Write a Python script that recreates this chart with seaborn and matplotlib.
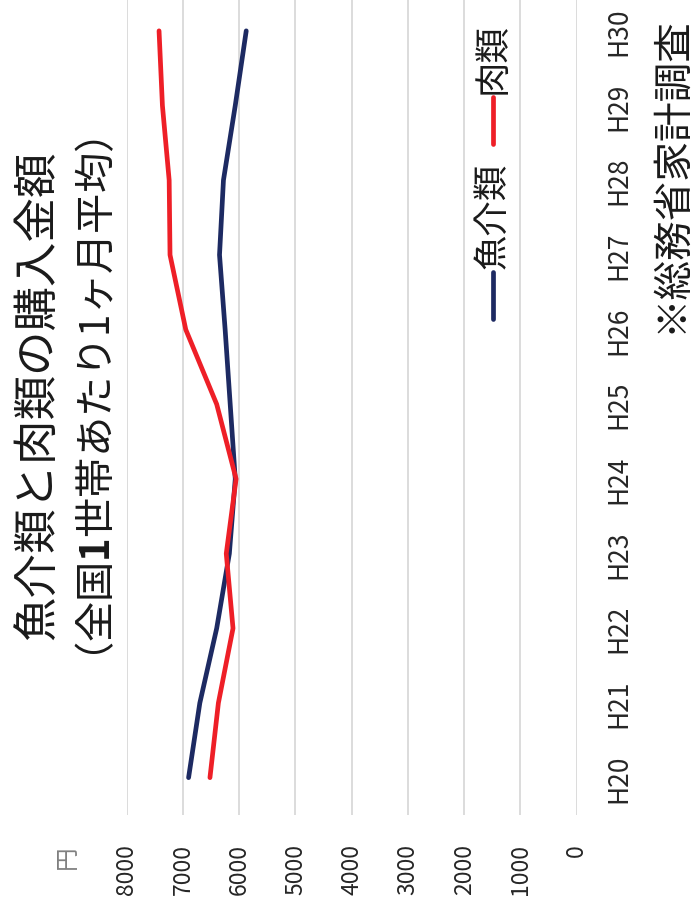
import matplotlib
matplotlib.use("Agg")
import matplotlib.pyplot as plt
import pandas as pd
import seaborn as sns
from matplotlib.lines import Line2D

# 家計調査: 1世帯あたり1ヶ月平均の購入金額（円）
years = ["H20", "H21", "H22", "H23", "H24", "H25", "H26", "H27", "H28", "H29", "H30"]
fish = [6900, 6700, 6400, 6175, 6070, 6160, 6250, 6350, 6280, 6070, 5875]
meat = [6520, 6370, 6110, 6230, 6055, 6400, 6950, 7230, 7245, 7365, 7425]
series_names = ["魚介類", "肉類"]
value_ticks = [0, 1000, 2000, 3000, 4000, 5000, 6000, 7000, 8000]

NAVY = "#1d2a62"
RED = "#ee1f27"
GRID = "#d9d9d9"
TEXT = "#262626"

sns.set_theme(style="white")
plt.rcParams["font.family"] = ["Noto Sans CJK JP", "DejaVu Sans"]
plt.rcParams["mathtext.fontset"] = "custom"
plt.rcParams["mathtext.rm"] = "Noto Sans CJK JP"
plt.rcParams["mathtext.bf"] = "Noto Sans CJK JP:bold"
plt.rcParams["mathtext.default"] = "rm"

pos = list(range(len(years)))
df = pd.DataFrame({
    "年": pos * 2,
    "金額": fish + meat,
    "系列": [series_names[0]] * len(years) + [series_names[1]] * len(years),
})

W, H = 694, 912
fig = plt.figure(figsize=(W / 100, H / 100), dpi=100)
fig.patch.set_facecolor("white")

# the whole chart is laid out turned a quarter turn: values run right-to-left, years bottom-to-top
left_px, right_px = 126.7, 576.7
bottom_px, top_px = 816, -5.5
ax = fig.add_axes([left_px / W, (H - bottom_px) / H,
                   (right_px - left_px) / W, (bottom_px - top_px) / H])

sns.lineplot(data=df, x="金額", y="年", hue="系列",
             palette={series_names[0]: NAVY, series_names[1]: RED},
             orient="y", sort=True, legend=False, linewidth=3.4,
             solid_capstyle="round", solid_joinstyle="round", ax=ax, zorder=3)

ax.set_xlim(8000, 0)
ax.set_ylim(-0.5, len(years) - 0.5)
ax.set_xticks(value_ticks)
ax.set_xticklabels([str(v) for v in value_ticks], rotation=90, fontsize=16.5,
                   color=TEXT, ha="center", va="top")
ax.set_yticks(pos)
ax.yaxis.tick_right()
ax.set_yticklabels(years, rotation=90, fontsize=19, color=TEXT,
                   ha="left", va="center")
ax.tick_params(axis="x", length=0, pad=20)
ax.tick_params(axis="y", length=0, pad=21)
ax.grid(axis="x", color=GRID, linewidth=1.3)
ax.grid(axis="y", visible=False)
for s in ax.spines.values():
    s.set_visible(False)
ax.set_xlabel("")
ax.set_ylabel("")

def fx(px):
    return px / W

def fy(py):
    return (H - py) / H

# unit label
fig.text(fx(67), fy(857), "円", rotation=90, fontsize=17, color="#808080",
         ha="center", va="center")

# title, two lines; the first "1" of the second line is bold
fig.text(fx(37), fy(395), "魚介類と肉類の購入金額", rotation=90, fontsize=32,
         color="#1a1a1a", ha="center", va="center")
fig.text(fx(98), fy(410), r"（全国$\mathbf{1}$世帯あたり1ヶ月平均）", rotation=90,
         fontsize=29, color="#1a1a1a", ha="center", va="center")

# legend
legend_x = 493
for name, color, (h0, h1) in [(series_names[0], NAVY, (273, 320)),
                              (series_names[1], RED, (98, 145))]:
    fig.add_artist(Line2D([fx(legend_x), fx(legend_x)], [fy(h1), fy(h0)],
                          transform=fig.transFigure, color=color, linewidth=3.4,
                          solid_capstyle="round"))
    fig.text(fx(legend_x), fy(h0 - 4), name, rotation=90, fontsize=25.5,
             color="#1a1a1a", ha="center", va="bottom")

# source note
fig.text(fx(671), fy(16), "※総務省家計調査", rotation=90, fontsize=28.5,
         color="#1a1a1a", ha="center", va="top")

fig.savefig("out.png", dpi=100, facecolor="white")
